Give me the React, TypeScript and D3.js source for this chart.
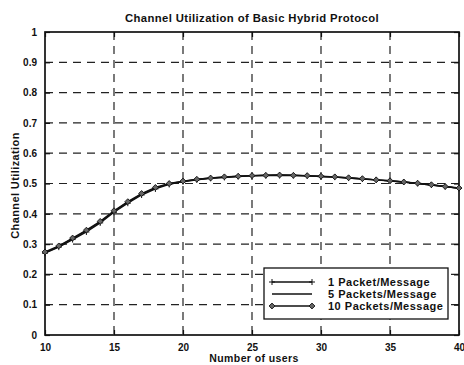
import { useEffect, useRef } from "react";
import * as d3 from "d3";

const users = d3.range(10, 41);
const onePacket = [0.27, 0.29, 0.315, 0.34, 0.37, 0.405, 0.435, 0.462, 0.482, 0.497, 0.506, 0.512, 0.517, 0.52, 0.523, 0.525, 0.526, 0.527, 0.526, 0.525, 0.523, 0.521, 0.518, 0.515, 0.512, 0.509, 0.505, 0.5, 0.495, 0.49, 0.484];
const fivePackets = [0.272, 0.292, 0.318, 0.344, 0.373, 0.408, 0.438, 0.465, 0.485, 0.499, 0.507, 0.513, 0.518, 0.521, 0.524, 0.526, 0.527, 0.527, 0.527, 0.525, 0.523, 0.521, 0.518, 0.515, 0.512, 0.508, 0.505, 0.5, 0.495, 0.49, 0.484];
const tenPackets = [0.274, 0.294, 0.32, 0.346, 0.375, 0.41, 0.44, 0.467, 0.487, 0.5, 0.508, 0.514, 0.518, 0.522, 0.524, 0.526, 0.527, 0.528, 0.527, 0.526, 0.524, 0.522, 0.519, 0.516, 0.512, 0.509, 0.505, 0.501, 0.496, 0.49, 0.485];
const seriesNames = ["1 Packet/Message", "5 Packets/Message", "10 Packets/Message"];
const xTicks = [10, 15, 20, 25, 30, 35, 40];
const yTicks = [0, 0.1, 0.2, 0.3, 0.4, 0.5, 0.6, 0.7, 0.8, 0.9, 1];

const W = 464;
const H = 365;
const FONT = "Arial, 'Liberation Sans', sans-serif";

const Chart = () => {
  const ref = useRef<SVGSVGElement | null>(null);

  useEffect(() => {
    const svg = d3.select(ref.current);
    svg.selectAll("*").remove();

    const margin = { top: 32, right: 5, bottom: 30, left: 45 };
    const x = d3.scaleLinear().domain([10, 40]).range([margin.left, W - margin.right]);
    const y = d3.scaleLinear().domain([0, 1]).range([H - margin.bottom, margin.top]);

    svg.append("rect").attr("width", W).attr("height", H).attr("fill", "#fff");

    // grid
    const grid = svg.append("g").attr("stroke", "#222").attr("stroke-width", 1.2).attr("stroke-dasharray", "8,6");
    grid
      .selectAll("line.h")
      .data(yTicks.slice(1, -1))
      .join("line")
      .attr("x1", x(10))
      .attr("x2", x(40))
      .attr("y1", (d) => y(d))
      .attr("y2", (d) => y(d));
    grid
      .selectAll("line.v")
      .data(xTicks.slice(1, -1))
      .join("line")
      .attr("class", "v")
      .attr("y1", y(1))
      .attr("y2", y(0))
      .attr("x1", (d) => x(d))
      .attr("x2", (d) => x(d));

    // axes with inward ticks
    const tickFmt = (d: d3.NumberValue) => String(d);
    const bottom = svg
      .append("g")
      .attr("transform", `translate(0,${y(0)})`)
      .call(d3.axisBottom(x).tickValues(xTicks).tickSize(-5).tickPadding(9).tickFormat(tickFmt));
    const left = svg
      .append("g")
      .attr("transform", `translate(${x(10)},0)`)
      .call(d3.axisLeft(y).tickValues(yTicks).tickSize(-5).tickPadding(8).tickFormat(tickFmt));
    svg
      .append("g")
      .attr("transform", `translate(0,${y(1)})`)
      .call(d3.axisTop(x).tickValues(xTicks).tickSize(-5).tickFormat(() => ""));
    svg
      .append("g")
      .attr("transform", `translate(${x(40)},0)`)
      .call(d3.axisRight(y).tickValues(yTicks).tickSize(-5).tickFormat(() => ""));
    svg.selectAll(".domain").remove();
    svg.selectAll(".tick line").attr("stroke", "#111").attr("stroke-width", 1.2);
    [bottom, left].forEach((g) =>
      g.selectAll("text").attr("font-family", FONT).attr("font-size", 10).attr("font-weight", "bold").attr("fill", "#111")
    );

    svg
      .append("rect")
      .attr("x", x(10))
      .attr("y", y(1))
      .attr("width", x(40) - x(10))
      .attr("height", y(0) - y(1))
      .attr("fill", "none")
      .attr("stroke", "#111")
      .attr("stroke-width", 1.7);

    // lines
    const series = [onePacket, fivePackets, tenPackets];
    const line = d3
      .line<number>()
      .x((_, i) => x(users[i]))
      .y((d) => y(d));
    const plot = svg.append("g");
    series.forEach((s) => {
      plot.append("path").attr("d", line(s)).attr("fill", "none").attr("stroke", "#111").attr("stroke-width", 1.4);
    });
    plot
      .selectAll("path.plus")
      .data(onePacket)
      .join("path")
      .attr("class", "plus")
      .attr("d", (d, i) => {
        const cx = x(users[i]);
        const cy = y(d);
        return `M${cx - 3},${cy}H${cx + 3}M${cx},${cy - 3}V${cy + 3}`;
      })
      .attr("stroke", "#111")
      .attr("stroke-width", 1);
    plot
      .selectAll("path.dia")
      .data(tenPackets)
      .join("path")
      .attr("class", "dia")
      .attr("transform", (d, i) => `translate(${x(users[i])},${y(d)})`)
      .attr("d", d3.symbol(d3.symbolDiamond2, 22)())
      .attr("fill", "#666")
      .attr("stroke", "#111")
      .attr("stroke-width", 0.9);

    // titles
    const label = (t: d3.Selection<SVGTextElement, unknown, null, undefined>, size: number) =>
      t
        .attr("text-anchor", "middle")
        .attr("font-family", FONT)
        .attr("font-size", size)
        .attr("font-weight", "bold")
        .attr("letter-spacing", 0.4)
        .attr("fill", "#111");
    label(svg.append("text").attr("x", 252).attr("y", 22), 11.3).text("Channel Utilization of Basic Hybrid Protocol");
    label(svg.append("text").attr("x", 254).attr("y", 362), 10.5).text("Number of users");
    label(
      svg.append("text").attr("transform", `translate(19,${(y(0) + y(1)) / 2 + 2}) rotate(-90)`),
      11
    ).text("Channel Utilization");

    // legend
    const lg = svg.append("g").attr("transform", "translate(264,268)");
    lg.append("rect").attr("width", 184).attr("height", 51).attr("fill", "#fff").attr("stroke", "#111").attr("stroke-width", 1.3);
    seriesNames.forEach((name, i) => {
      const ly = 14 + i * 12;
      lg.append("line").attr("x1", 8).attr("x2", 48).attr("y1", ly).attr("y2", ly).attr("stroke", "#111").attr("stroke-width", 1.3);
      if (i === 0) {
        [8, 48].forEach((px) =>
          lg.append("path").attr("d", `M${px - 3},${ly}H${px + 3}M${px},${ly - 3}V${ly + 3}`).attr("stroke", "#111")
        );
      }
      if (i === 2) {
        [8, 48].forEach((px) =>
          lg
            .append("path")
            .attr("transform", `translate(${px},${ly})`)
            .attr("d", d3.symbol(d3.symbolDiamond2, 22)())
            .attr("fill", "#666")
            .attr("stroke", "#111")
            .attr("stroke-width", 0.9)
        );
      }
      lg.append("text")
        .attr("x", 64)
        .attr("y", ly + 4)
        .attr("font-family", FONT)
        .attr("font-size", 11)
        .attr("font-weight", "bold")
        .attr("letter-spacing", 0.5)
        .attr("fill", "#111")
        .text(name);
    });
  }, []);

  return <svg ref={ref} width={W} height={H} style={{ position: "absolute", left: 0, top: 0 }} />;
};

export default function App() {
  return <Chart />;
}
